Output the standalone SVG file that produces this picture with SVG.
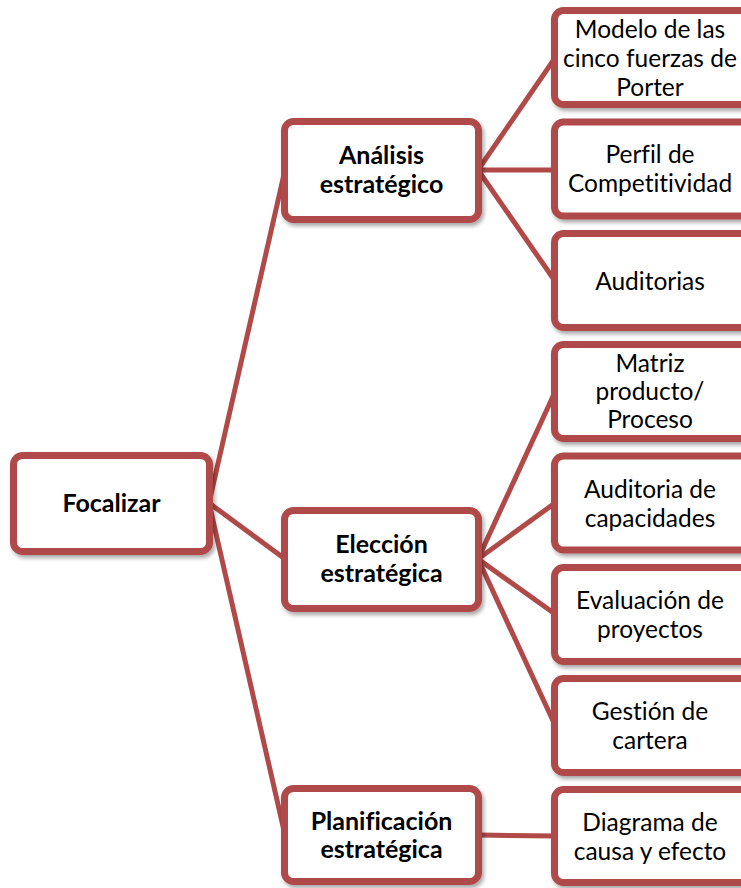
<svg xmlns="http://www.w3.org/2000/svg" width="741" height="888" viewBox="0 0 741 888">
  <defs>
    <filter id="shadow" x="-10%" y="-10%" width="130%" height="130%">
      <feGaussianBlur in="SourceAlpha" stdDeviation="2"/>
      <feOffset dx="2" dy="3" result="off"/>
      <feComponentTransfer><feFuncA type="linear" slope="0.35"/></feComponentTransfer>
      <feMerge><feMergeNode/><feMergeNode in="SourceGraphic"/></feMerge>
    </filter>
  </defs>
  <style>
    .box { fill: #ffffff; stroke: #b04a48; stroke-width: 7; filter: url(#shadow); }
    .link { stroke: #b04a48; stroke-width: 5; fill: none; }
    .t { font-family: Lato, "Liberation Sans", sans-serif; font-size: 24.5px; fill: #000; text-anchor: middle; font-variant-ligatures: none; font-feature-settings: "liga" 0, "dlig" 0; }
    .b { font-weight: bold; font-size: 25px; }
  </style>
  <rect width="741" height="888" fill="#ffffff"/>

  <!-- connectors drawn beneath the boxes -->
  <g id="connectors">
    <line class="link" x1="209" y1="503" x2="285" y2="170"/>
    <line class="link" x1="209" y1="503" x2="285" y2="559"/>
    <line class="link" x1="209" y1="503" x2="285" y2="835"/>
    <line class="link" x1="478" y1="170" x2="555" y2="58"/>
    <line class="link" x1="478" y1="170" x2="555" y2="170"/>
    <line class="link" x1="478" y1="170" x2="555" y2="281"/>
    <line class="link" x1="478" y1="559" x2="555" y2="392"/>
    <line class="link" x1="478" y1="559" x2="555" y2="503"/>
    <line class="link" x1="478" y1="559" x2="555" y2="614"/>
    <line class="link" x1="478" y1="559" x2="555" y2="725"/>
    <line class="link" x1="478" y1="835" x2="555" y2="836"/>
  </g>

  <!-- root -->
  <g id="focalizar">
    <rect class="box" x="13.5" y="455.5" width="196" height="96" rx="9"/>
    <text class="t b" x="111.5" y="512">Focalizar</text>
  </g>

  <!-- second level -->
  <g id="analisis">
    <rect class="box" x="284.5" y="121.5" width="194" height="98" rx="9"/>
    <text class="t b" x="381.5" y="164">Análisis</text>
    <text class="t b" x="381.5" y="193">estratégico</text>
  </g>
  <g id="eleccion">
    <rect class="box" x="284.5" y="510.5" width="194" height="98" rx="9"/>
    <text class="t b" x="381.5" y="553">Elección</text>
    <text class="t b" x="381.5" y="582">estratégica</text>
  </g>
  <g id="planificacion">
    <rect class="box" x="284.5" y="788.5" width="194" height="93" rx="9"/>
    <text class="t b" x="381.5" y="830">Planificación</text>
    <text class="t b" x="381.5" y="858">estratégica</text>
  </g>

  <!-- third level -->
  <g id="porter">
    <rect class="box" x="554.5" y="10.5" width="196" height="94" rx="9"/>
    <text class="t" x="650" y="38">Modelo de las</text>
    <text class="t" x="650" y="67">cinco fuerzas de</text>
    <text class="t" x="650" y="96">Porter</text>
  </g>
  <g id="perfil">
    <rect class="box" x="554.5" y="122" width="196" height="94" rx="9"/>
    <text class="t" x="650" y="163">Perfil de</text>
    <text class="t" x="650" y="192">Competitividad</text>
  </g>
  <g id="auditorias">
    <rect class="box" x="554.5" y="233.5" width="196" height="94" rx="9"/>
    <text class="t" x="650" y="290">Auditorias</text>
  </g>
  <g id="matriz">
    <rect class="box" x="554.5" y="344.5" width="196" height="94" rx="9"/>
    <text class="t" x="650" y="372">Matriz</text>
    <text class="t" x="650" y="400">producto/</text>
    <text class="t" x="650" y="428">Proceso</text>
  </g>
  <g id="capacidades">
    <rect class="box" x="554.5" y="456" width="196" height="94" rx="9"/>
    <text class="t" x="650" y="498">Auditoria de</text>
    <text class="t" x="650" y="527">capacidades</text>
  </g>
  <g id="proyectos">
    <rect class="box" x="554.5" y="567.5" width="196" height="94" rx="9"/>
    <text class="t" x="650" y="609">Evaluación de</text>
    <text class="t" x="650" y="638">proyectos</text>
  </g>
  <g id="cartera">
    <rect class="box" x="554.5" y="678.5" width="196" height="94" rx="9"/>
    <text class="t" x="650" y="720">Gestión de</text>
    <text class="t" x="650" y="749">cartera</text>
  </g>
  <g id="diagrama">
    <rect class="box" x="554.5" y="789.5" width="196" height="93" rx="9"/>
    <text class="t" x="650" y="831">Diagrama de</text>
    <text class="t" x="650" y="860">causa y efecto</text>
  </g>
</svg>
